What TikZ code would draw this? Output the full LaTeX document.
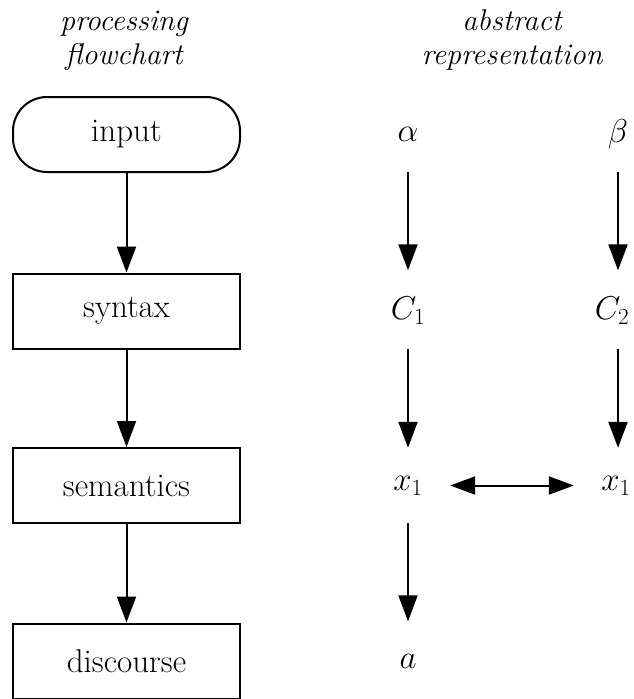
\RequirePackage{fix-cm}
\documentclass[tikz,border=0pt]{standalone}
\usetikzlibrary{arrows.meta}
\begin{document}
\begin{tikzpicture}[x=1pt,y=-1pt,
  font=\fontsize{33}{40}\selectfont,
  box/.style={draw,line width=2pt,minimum width=227pt,minimum height=75pt,inner sep=0pt},
  term/.style={box,rounded corners=34pt},
  lbl/.style={minimum width=84pt,minimum height=75pt,inner sep=0pt},
  arr/.style={line width=2pt,-{Triangle[length=26pt,width=19pt]}},
  darr/.style={line width=2pt,{Triangle[length=25pt,width=18pt]}-{Triangle[length=25pt,width=18pt]}},
  head/.style={font=\fontsize{30}{36}\selectfont\itshape,anchor=base,inner sep=0pt}]
\useasboundingbox (0,0) rectangle (633,699);
% headers
\node[head] (h1) at (124,30) {processing};
\node[head] (h2) at (124,64) {flowchart};
\node[head] (h3) at (512,30) {abstract};
\node[head] (h4) at (512,64) {representation};
% flowchart
\node[term] (in) at (126.5,134.5) {input};
\node[box] (syn) at (126.5,311) {syntax};
\node[box] (sem) at (126.5,485.5) {semantics};
\node[box] (dis) at (126.5,661) {discourse};
\draw[arr] (in) -- (syn);
\draw[arr] (syn) -- (sem);
\draw[arr] (sem) -- (dis);
% abstract representation
\node[lbl] (al) at (408,134.5) {$\alpha$};
\node[lbl] (be) at (618,134.5) {$\beta$};
\node[lbl] (c1) at (408,311) {$C_1$};
\node[lbl] (c2) at (612,311) {$C_2$};
\node[lbl] (xa) at (408,485.5) {$x_1$};
\node[lbl] (xb) at (616,485.5) {$x_1$};
\node[lbl] (aa) at (408,661) {$a$};
\draw[arr,shorten >=3pt] (al) -- (c1);
\draw[arr,shorten >=3pt] (be) -- (be |- c2.north);
\draw[arr] (c1) -- (xa);
\draw[arr] (be |- c2.south) -- (be |- xb.north);
\draw[arr,shorten >=2pt] (xa) -- (aa);
\draw[darr] (xa) -- (xb);
\end{tikzpicture}
\end{document}
